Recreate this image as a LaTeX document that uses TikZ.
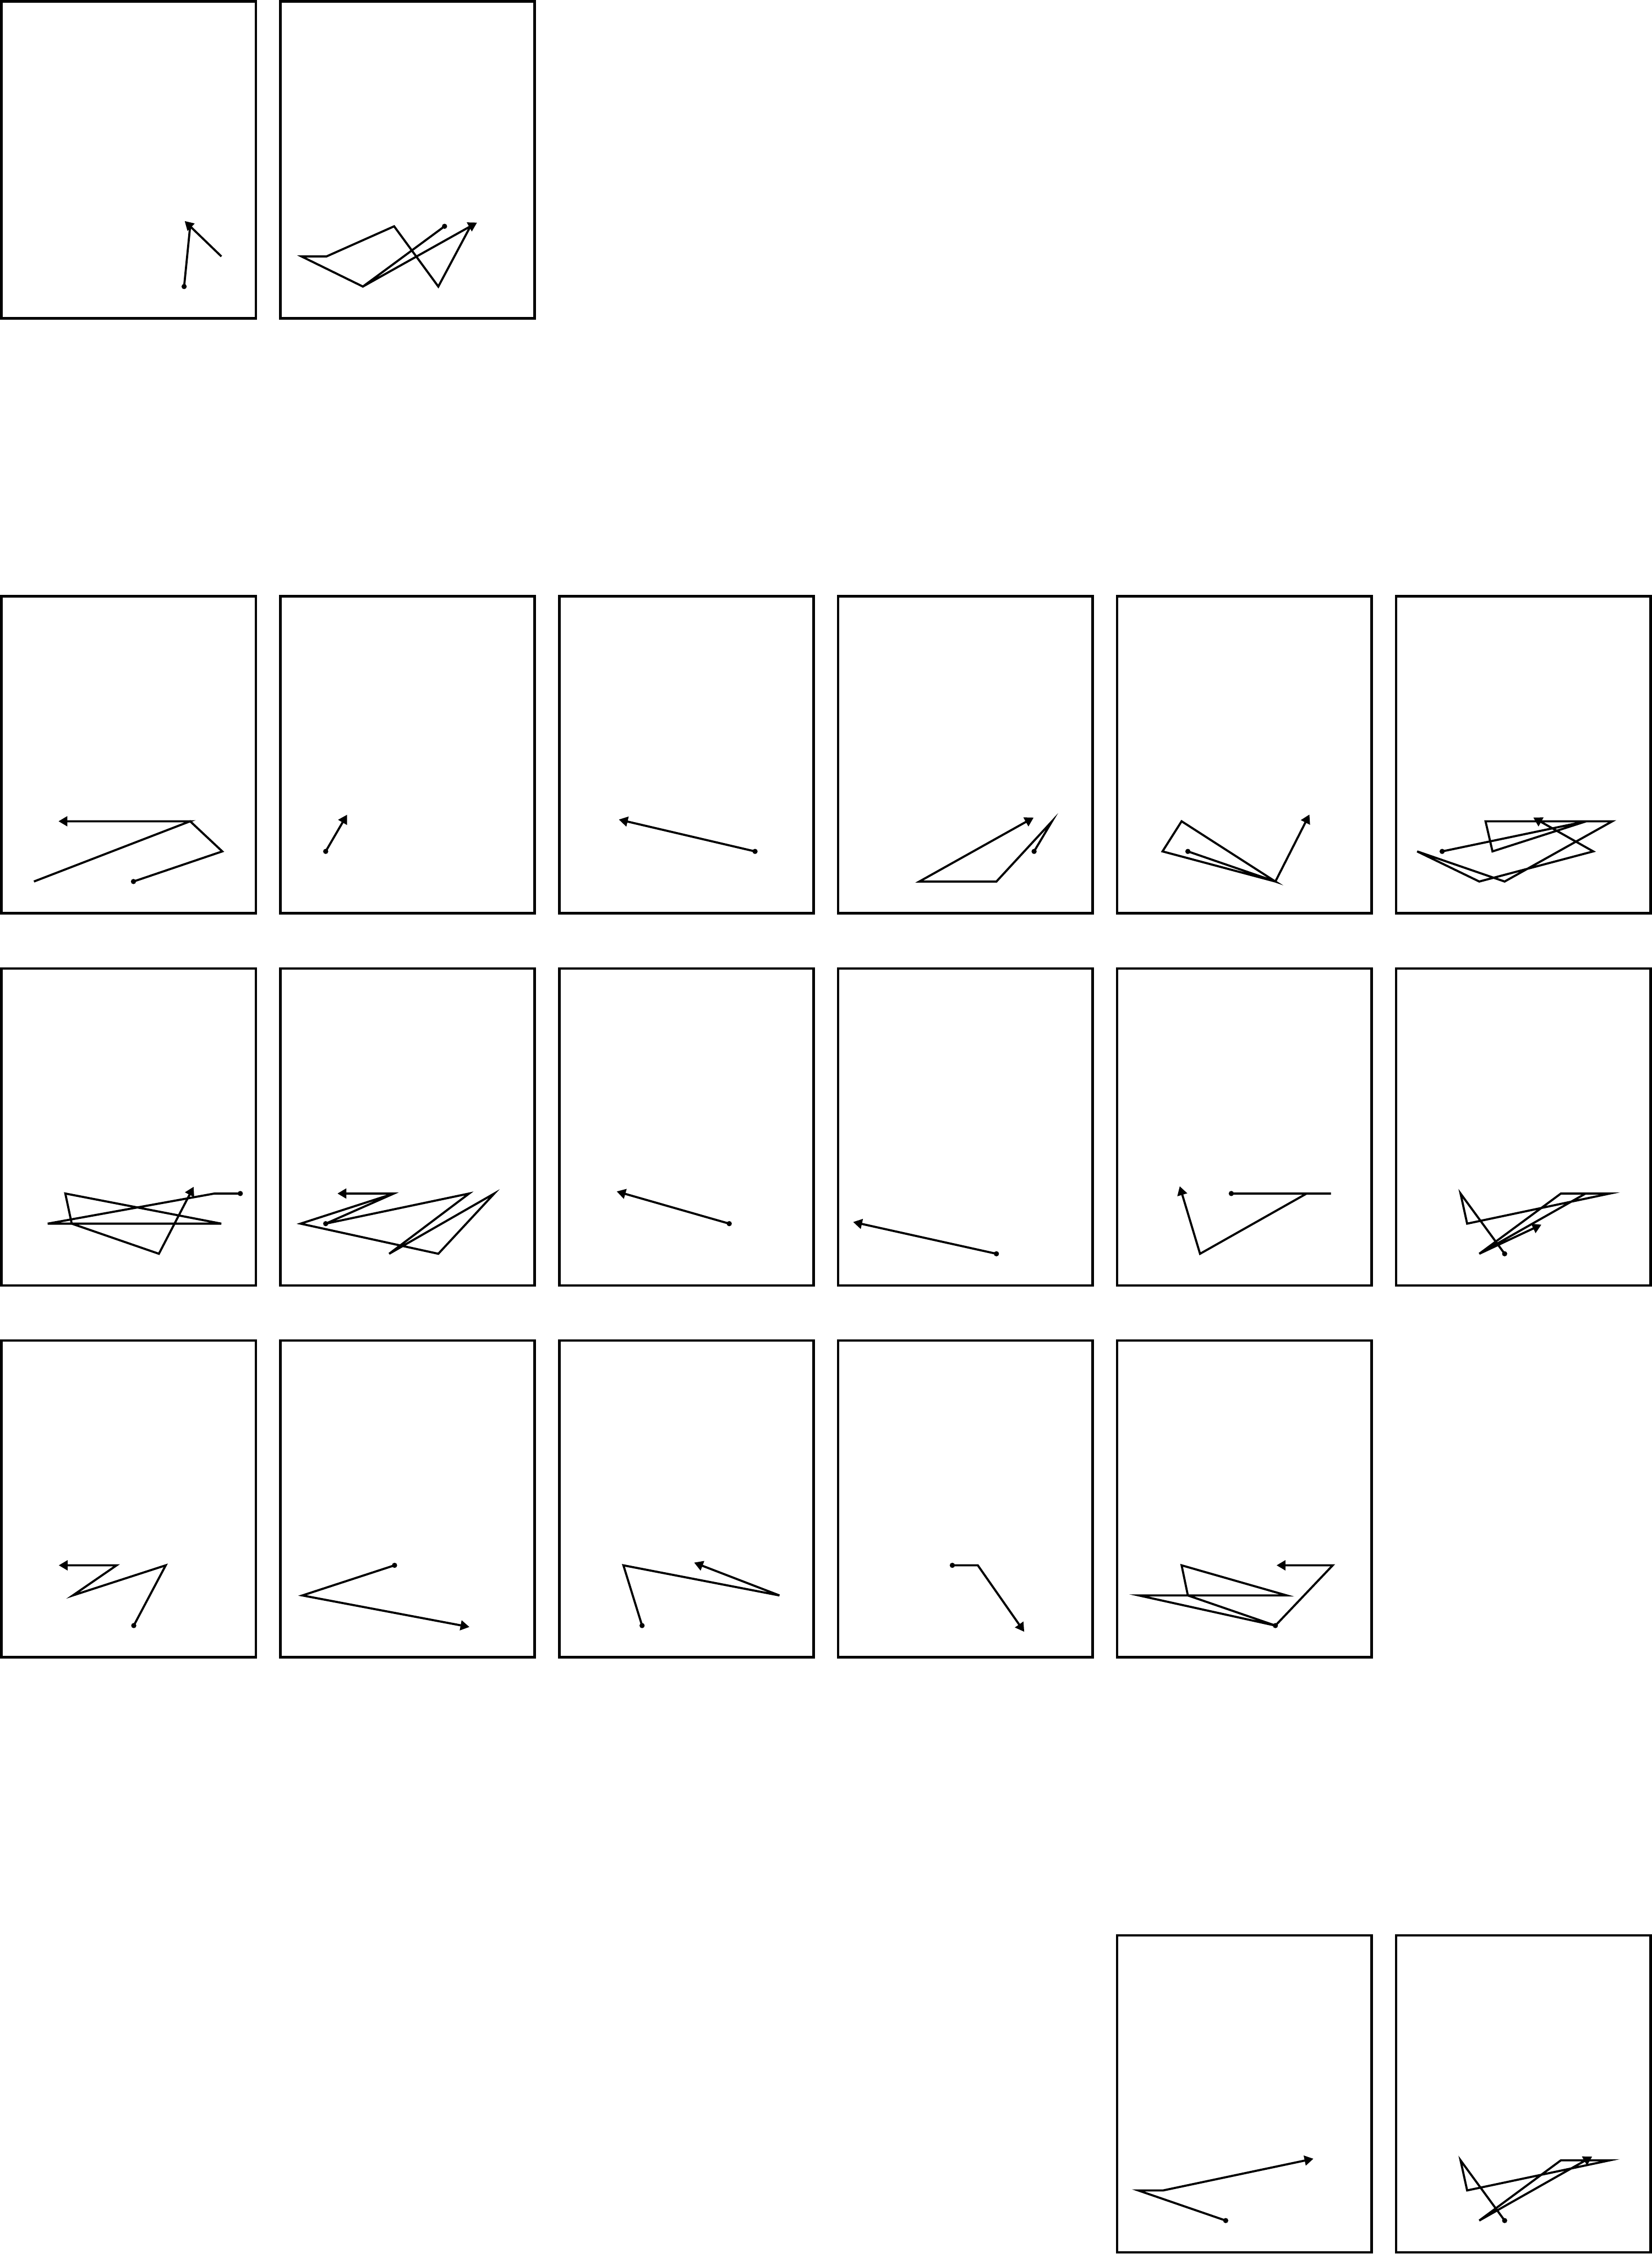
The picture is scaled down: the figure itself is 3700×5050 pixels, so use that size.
\documentclass[tikz,border=0pt]{standalone}
\usetikzlibrary{arrows.meta}
\begin{document}
\begin{tikzpicture}[x=0.01cm,y=-0.01cm,
  panel/.style={draw=black, line width=0.055cm},
  stroke/.style={draw=black, line width=0.047cm,
    -{Triangle[length=0.2cm,width=0.22cm]}, shorten >=-0.17cm},
  startdot/.style={fill=black}]
\def\yA{504}\def\yB{571.5}\def\yC{639}
\newcommand\pdot[1]{\fill[startdot] #1 circle[radius=0.058cm];}
\useasboundingbox (0,0) rectangle (3700,5050);
% ---------------- row 1
\begin{scope}[shift={(3,3)}]
  \draw[panel] (0,0) rectangle (570,710);
  \pdot{(409.5,\yC)}
  \draw[stroke] (409.5,\yC) -- (423,\yA) -- (493,\yB) -- (423,\yA);
\end{scope}
\begin{scope}[shift={(628,3)}]
  \draw[panel] (0,0) rectangle (570,710);
  \pdot{(368,\yA)}
  \draw[stroke] (368,\yA) -- (185,\yC) -- (47.5,\yB) -- (103.5,\yB) -- (255,\yA)
     -- (354,\yC) -- (426,\yA) -- (185,\yC) -- (426,\yA);
\end{scope}
% ---------------- row 2
\begin{scope}[shift={(3,1336)}]
  \draw[panel] (0,0) rectangle (570,710);
  \pdot{(296,\yC)}
  \draw[stroke] (296,\yC) -- (495,\yB) -- (423,\yA) -- (73,\yC) -- (423,\yA) -- (145,\yA);
\end{scope}
\begin{scope}[shift={(628,1336)}]
  \draw[panel] (0,0) rectangle (570,710);
  \pdot{(101.7,\yB)}
  \draw[stroke] (101.7,\yB) -- (141,\yA);
\end{scope}
\begin{scope}[shift={(1253,1336)}]
  \draw[panel] (0,0) rectangle (570,710);
  \pdot{(438.6,\yB)}
  \draw[stroke] (438.6,\yB) -- (150,\yA);
\end{scope}
\begin{scope}[shift={(1878,1336)}]
  \draw[panel] (0,0) rectangle (570,710);
  \pdot{(438.8,\yB)}
  \draw[stroke] (438.8,\yB) -- (479,\yA) -- (354.4,\yC) -- (181.7,\yC) -- (423,\yA);
\end{scope}
\begin{scope}[shift={(2503,1336)}]
  \draw[panel] (0,0) rectangle (570,710);
  \pdot{(158.3,\yB)}
  \draw[stroke] (158.3,\yB) -- (354.4,\yC) -- (144.3,\yA) -- (101.5,\yB) -- (354.4,\yC) -- (423,\yA);
\end{scope}
\begin{scope}[shift={(3128,1336)}]
  \draw[panel] (0,0) rectangle (570,710);
  \pdot{(103,\yB)}
  \draw[stroke] (103,\yB) -- (426,\yA) -- (215.8,\yB) -- (200.2,\yA) -- (484.3,\yA)
     -- (243,\yC) -- (47,\yB) -- (186.2,\yC) -- (441.5,\yB) -- (322,\yA);
\end{scope}
% ---------------- row 3
\begin{scope}[shift={(3,2170)}]
  \draw[panel] (0,0) rectangle (570,710);
  \pdot{(535.4,\yA)}
  \draw[stroke] (535.4,\yA) -- (477.6,\yA) -- (103.9,\yB) -- (492.8,\yB) -- (143.3,\yA)
     -- (157.7,\yB) -- (353,\yC) -- (423,\yA);
\end{scope}
\begin{scope}[shift={(628,2170)}]
  \draw[panel] (0,0) rectangle (570,710);
  \pdot{(101.7,\yB)}
  \draw[stroke] (101.7,\yB) -- (423.1,\yA) -- (243.9,\yC) -- (479.4,\yA) -- (354,\yC)
     -- (45.4,\yB) -- (254.4,\yA) -- (101.7,\yB) -- (254.4,\yA) -- (145,\yA);
\end{scope}
\begin{scope}[shift={(1253,2170)}]
  \draw[panel] (0,0) rectangle (570,710);
  \pdot{(380.8,\yB)}
  \draw[stroke] (380.8,\yB) -- (145,\yA);
\end{scope}
\begin{scope}[shift={(1878,2170)}]
  \draw[panel] (0,0) rectangle (570,710);
  \pdot{(354.4,\yC)}
  \draw[stroke] (354.4,\yC) -- (50,\yB);
\end{scope}
\begin{scope}[shift={(2503,2170)}]
  \draw[panel] (0,0) rectangle (570,710);
  \pdot{(255.6,\yA)}
  \draw[stroke] (255.6,\yA) -- (479,\yA) -- (424.5,\yA) -- (185.6,\yC) -- (145,\yA);
\end{scope}
\begin{scope}[shift={(3128,2170)}]
  \draw[panel] (0,0) rectangle (570,710);
  \pdot{(243,\yC)}
  \draw[stroke] (243,\yC) -- (144.2,\yA) -- (159,\yB) -- (478.8,\yA) -- (369.1,\yA)
     -- (186.2,\yC) -- (424.4,\yA) -- (186.2,\yC) -- (310,581);
\end{scope}
% ---------------- row 4
\begin{scope}[shift={(3,3003)}]
  \draw[panel] (0,0) rectangle (570,710);
  \pdot{(296.7,\yC)}
  \draw[stroke] (296.7,\yC) -- (368.3,\yA) -- (160.1,\yB) -- (258.2,\yA) -- (145.6,\yA);
\end{scope}
\begin{scope}[shift={(628,3003)}]
  \draw[panel] (0,0) rectangle (570,710);
  \pdot{(256,\yA)}
  \draw[stroke] (256,\yA) -- (49.4,\yB) -- (407,\yC);
\end{scope}
\begin{scope}[shift={(1253,3003)}]
  \draw[panel] (0,0) rectangle (570,710);
  \pdot{(185.5,\yC)}
  \draw[stroke] (185.5,\yC) -- (143.7,\yA) -- (493.3,\yB) -- (318,\yA);
\end{scope}
\begin{scope}[shift={(1878,3003)}]
  \draw[panel] (0,0) rectangle (570,710);
  \pdot{(255.6,\yA)}
  \draw[stroke] (255.6,\yA) -- (312.7,\yA) -- (407,\yC);
\end{scope}
\begin{scope}[shift={(2503,3003)}]
  \draw[panel] (0,0) rectangle (570,710);
  \pdot{(354.4,\yC)}
  \draw[stroke] (354.4,\yC) -- (48.6,\yB) -- (380.1,\yB) -- (144.3,\yA) -- (158.3,\yB)
     -- (354.4,\yC) -- (482.8,\yA) -- (374,\yA);
\end{scope}
% ---------------- row 5
\begin{scope}[shift={(2503,4336)}]
  \draw[panel] (0,0) rectangle (570,710);
  \pdot{(243.1,\yC)}
  \draw[stroke] (243.1,\yC) -- (47,\yB) -- (103,\yB) -- (423,\yA);
\end{scope}
\begin{scope}[shift={(3128,4336)}]
  \draw[panel] (0,0) rectangle (570,710);
  \pdot{(243,\yC)}
  \draw[stroke] (243,\yC) -- (144.2,\yA) -- (159,\yB) -- (478.8,\yA) -- (369.1,\yA)
     -- (186.2,\yC) -- (424.4,\yA);
\end{scope}
\end{tikzpicture}
\end{document}
